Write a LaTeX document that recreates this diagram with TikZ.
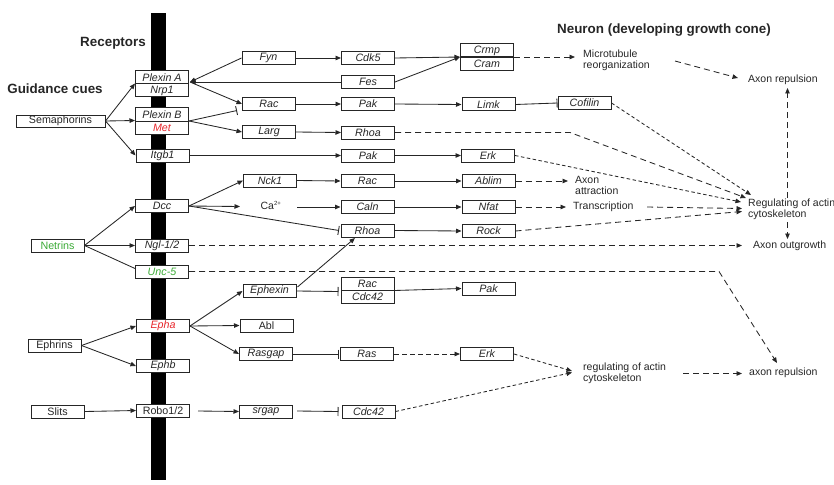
\documentclass[tikz,border=0pt]{standalone}
\usepackage{fontspec}
\setmainfont{Liberation Sans}
\usetikzlibrary{arrows.meta,calc}
\definecolor{lc}{HTML}{262626}
\definecolor{tc}{HTML}{262626}
\definecolor{rd}{HTML}{E8262B}
\definecolor{gr}{HTML}{3AAA35}
\begin{document}
\begin{tikzpicture}[x=1pt,y=-1pt,
  box/.style={draw=lc, fill=white, line width=1pt, minimum width=53pt, minimum height=13pt, inner sep=0pt,
    font=\fontsize{10.7}{12}\selectfont\itshape, text=tc},
  upbox/.style={box, font=\fontsize{10.7}{12}\selectfont},
  lbl/.style={font=\fontsize{10.5}{11}\selectfont, text=tc, inner sep=0pt, align=left},
  ttl/.style={font=\fontsize{13.4}{15}\selectfont\bfseries, text=tc, inner sep=0pt},
  arr/.style={-{Triangle[length=5.5pt,width=4.5pt]}, line width=0.85pt, draw=lc},
  inh/.style={-{Bar[width=9pt,line width=0.9pt]}, line width=0.85pt, draw=lc},
  ln/.style={line width=0.85pt, draw=lc},
  dsh/.style={arr, dash pattern=on 6pt off 4pt},
  sdsh/.style={arr, dash pattern=on 3.5pt off 2.5pt},
]
\useasboundingbox (0,0) rectangle (834,484);
% membrane
\fill[black] (151,13) rectangle (166,480);
% titles
\node[ttl] (treceptors) at (113,43) {Receptors};
\node[ttl] (tcues) at (55,89) {Guidance cues};
\node[ttl] (tneuron) at (664,30) {Neuron (developing growth cone)};
% guidance cues
\node[upbox, minimum width=89pt, minimum height=12pt] (sema) at (60.5,121) {Semaphorins};
\node[upbox, text=gr] (netrins) at (57.5,245.5) {Netrins};
\node[upbox] (ephrins) at (54.5,345.5) {Ephrins};
\node[upbox] (slits) at (57.5,411.5) {Slits};
% receptors
\node[box] (plexa) at (162,77.5) {Plexin A};
\node[box] (nrp1) at (162,90.5) {Nrp1};
\node[box] (plexb) at (162,114.5) {Plexin B};
\node[box, text=rd] (met) at (162,127.5) {Met};
\node[box] (itgb1) at (162.5,155.5) {Itgb1};
\node[box] (dcc) at (162,206) {Dcc};
\node[box] (ngl) at (162,245.5) {Ngl-1/2};
\node[box, text=gr] (unc5) at (162,271.5) {Unc-5};
\node[box, text=rd] (epha) at (163,326) {Epha};
\node[box] (ephb) at (163,366) {Ephb};
\node[upbox] (robo) at (163,410.5) {Robo1/2};
% column 2
\node[box] (fyn) at (268.5,58) {Fyn};
\node[box] (rac1) at (269,104) {Rac};
\node[box] (larg) at (269,132) {Larg};
\node[box] (nck1) at (270,180.5) {Nck1};
\node[lbl] (ca) at (271,205) {Ca\textsuperscript{\fontsize{6}{6}\selectfont 2+}};
\node[box] (ephexin) at (269.5,291) {Ephexin};
\node[upbox] (abl) at (266.5,325.5) {Abl};
\node[box] (rasgap) at (266,354) {Rasgap};
\node[box] (srgap) at (266,411.5) {srgap};
% column 3
\node[box] (cdk5) at (368,58) {Cdk5};
\node[box] (fes) at (368,82) {Fes};
\node[box] (pak1) at (368,104) {Pak};
\node[box] (rhoa1) at (368,132.5) {Rhoa};
\node[box] (pak2) at (368,155.5) {Pak};
\node[box] (rac2) at (367.5,181) {Rac};
\node[box] (caln) at (367.5,207) {Caln};
\node[box] (rhoa2) at (367.5,230.5) {Rhoa};
\node[box] (rac3) at (367.5,283.5) {Rac};
\node[box] (cdc42a) at (367.5,297) {Cdc42};
\node[box] (ras) at (367,354) {Ras};
\node[box] (cdc42b) at (368.5,411.5) {Cdc42};
% column 4
\node[box] (crmp) at (487,50.5) {Crmp};
\node[box] (cram) at (487,64) {Cram};
\node[box] (limk) at (488.5,104.5) {Limk};
\node[box] (erk1) at (488,155.5) {Erk};
\node[box] (ablim) at (488.5,181) {Ablim};
\node[box] (nfat) at (488.5,207) {Nfat};
\node[box] (rock) at (488.5,231) {Rock};
\node[box] (pak3) at (488.5,288.5) {Pak};
\node[box] (erk2) at (487,354) {Erk};
\node[box] (cofilin) at (584.5,103) {Cofilin};
% outcome texts
\node[lbl, anchor=west] (micro) at (583,60) {Microtubule\\reorganization};
\node[lbl, anchor=west] (repul1) at (748,80) {Axon repulsion};
\node[lbl, anchor=west] (attr) at (575,185) {Axon\\attraction};
\node[lbl, anchor=west] (transc) at (573,207) {Transcription};
\node[lbl, anchor=west] (reg1) at (748,209.5) {Regulating of actin\\cytoskeleton};
\node[lbl, anchor=west] (outg) at (753,246) {Axon outgrowth};
\node[lbl, anchor=west] (reg2) at (583,373) {regulating of actin\\cytoskeleton};
\node[lbl, anchor=west] (repul2) at (749,373) {axon repulsion};
% helper coordinates
\coordinate (pax) at (190,82);
\coordinate (racin) at (237,110.5);
\coordinate (pbo) at (189,121);
\coordinate (r1) at (751,195);
\coordinate (r2) at (746,198);
\coordinate (r3) at (741,202);
\coordinate (r4) at (742,208.5);
\coordinate (r5) at (742,211.5);
\coordinate (rhoaturn) at (570,132.5);
\coordinate (uncturn) at (719,271.5);
\coordinate (rep2in) at (777,363);
\coordinate (reg2in) at (572,371);
\coordinate (regtop) at (787.5,198);
\coordinate (regbot) at (787.5,222);
\coordinate (outtop) at (787.5,239);
\coordinate (rep1bot) at (787.5,88);
\coordinate (caout) at (297,207);
\coordinate (robout) at (198,411);
\coordinate (srgout) at (297,411);
% semaphorins
\draw[arr] (sema.east) -- (nrp1.north west);
\draw[arr] (sema.east) -- (met.north west);
\draw[arr] (sema.east) -- (itgb1.west);
\draw[arr] (fyn.west) -- (pax);
\draw[arr] (fes.west) -- (pax);
\draw[arr] (pax) -- (rac1.west);
\draw[inh] (pbo) -- (racin);
\draw[arr] (pbo) -- (larg.west);
\draw[arr] (itgb1.east) -- (pak2.west);
\draw[arr] (fyn.east) -- (cdk5.west);
\draw[arr] (cdk5.east) -- (cram.north west);
\draw[arr] (fes.east) -- (cram.north west);
\draw[arr] (rac1.east) -- (pak1.west);
\draw[arr] (pak1.east) -- (limk.west);
\draw[inh] (limk.east) -- (cofilin.west);
\draw[arr] (larg.east) -- (rhoa1.west);
\draw[arr] (pak2.east) -- (erk1.west);
\draw[dsh] (cram.north east) -- ($(micro.west)+(-8,-3)$);
\draw[dsh] (675,61) -- (738,78);
\draw[dsh] (rhoa1.east) -- (rhoaturn) -- (r2);
\draw[sdsh] (cofilin.east) -- (r1);
\draw[sdsh] (erk1.east) -- (r3);
\draw[dsh] (regtop) -- (rep1bot);
\draw[dsh] (regbot) -- (outtop);
% netrins
\draw[arr] (netrins.east) -- (dcc.west);
\draw[arr] (netrins.east) -- (ngl.west);
\draw[ln] (netrins.east) -- ($(unc5.west)+(0,-3)$);
\draw[arr] (dcc.east) -- (nck1.west);
\draw[arr] (dcc.east) -- (240,206.5);
\draw[inh] (dcc.east) -- (339,230.5);
\draw[arr] (nck1.east) -- (rac2.west);
\draw[arr] (rac2.east) -- (ablim.west);
\draw[arr] (caout) -- (caln.west);
\draw[arr] (caln.east) -- (nfat.west);
\draw[arr] (rhoa2.east) -- (rock.west);
\draw[dsh] (ablim.east) -- (568,181);
\draw[dsh] (nfat.east) -- (566,207);
\draw[dsh] (647,207) -- (r4);
\draw[dsh] (rock.east) -- (r5);
\draw[dsh] (ngl.east) -- (742,245.5);
\draw[dsh] (unc5.east) -- (uncturn) -- (rep2in);
% ephrins
\draw[arr] (ephrins.east) -- (epha.west);
\draw[arr] (ephrins.east) -- (ephb.west);
\draw[arr] (epha.east) -- (ephexin.west);
\draw[arr] (epha.east) -- (abl.west);
\draw[arr] (epha.east) -- (rasgap.west);
\draw[inh] (ephexin.east) -- (338.5,291.5);
\draw[arr] ($(ephexin.north east)+(1,3)$) -- (355,238);
\draw[arr] (rac3.south east) -- (pak3.west);
\draw[inh] (rasgap.east) -- (338.5,354);
\draw[arr, dash pattern=on 5pt off 3pt] (ras.east) -- (erk2.west);
\draw[sdsh] (erk2.east) -- (reg2in);
\draw[dsh] (683,373.5) -- (742,373.5);
% slits
\draw[arr] (slits.east) -- (robo.west);
\draw[arr] (robout) -- (srgap.west);
\draw[inh] (srgout) -- (338.5,411.5);
\draw[sdsh] (cdc42b.east) -- (572,372.5);
\end{tikzpicture}
\end{document}
